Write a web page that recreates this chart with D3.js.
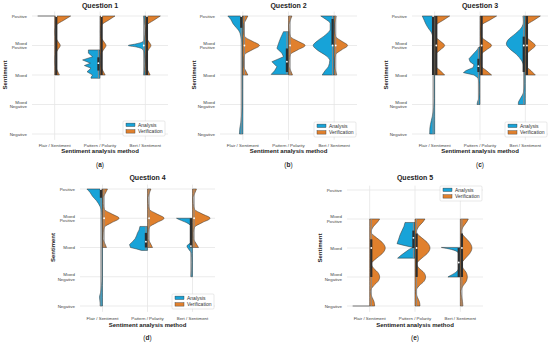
<!DOCTYPE html>
<html>
<head>
<meta charset="utf-8">
<script src="https://cdn.jsdelivr.net/npm/d3@7"></script>
<style>
	body { margin: 0; background: #fff; }
	svg { display: block; font-family: "Liberation Sans", Arial, sans-serif; }
</style>
</head>
<body>
<svg id="chart" width="550" height="343"></svg>
<script>
// sentiment levels, 0 = Negative ... 4 = Positive
const levels = ["Negative", "Mixed\nNegative", "Mixed", "Mixed\nPositive", "Positive"];
const methods = ["Flair / Sentiment", "Pattern / Polarity", "Bert / Sentiment"];
const questions = ["Question 1", "Question 2", "Question 3", "Question 4", "Question 5"];
const tags = ["a", "b", "c", "d", "e"];
const series = ["Analysis", "Verification"];

// half-violin profiles: [sentiment level, relative density]
// one row per question, one entry per method
const analysisShapes = [
	[
		[[4, .85]],
		[[2.85, .58], [2.74, .58], [2.62, .37], [2.51, .87], [2.4, .48], [2.32, .78], [2.23, .45], [2.11, .65], [2.0, .37], [1.92, .45], [1.89, .45]],
		[[4, .1], [3.85, .05], [3.5, .02], [3.25, .04], [3.13, .12], [3.05, .5], [3, .85], [2.95, .45], [2.88, .15], [2.75, .06], [2.4, .03], [2.15, .05], [2, .1]]
	],
	[
		[[4, .75], [3.88, .6], [3.75, .5], [3.6, .32], [3.5, .2], [3.3, .1], [3.1, .05], [2.8, .03], [1.5, .03], [0.9, .04], [0.6, .07], [0.4, .1], [0.2, .15], [0, .17]],
		[[3.47, .25], [3.25, .4], [3.07, .5], [2.9, .58], [2.74, .33], [2.62, .25], [2.45, .83], [2.28, .58], [2.14, .7], [2.02, .87]],
		[[4, .67], [3.9, .45], [3.75, .2], [3.55, .2], [3.35, .45], [3.15, .85], [3, 1.05], [2.85, .85], [2.65, .4], [2.5, .22], [2.3, .28], [2.15, .45], [2, .6]]
	],
	[
		[[4, .62], [3.85, .52], [3.7, .42], [3.55, .28], [3.45, .17], [3.2, .07], [3, .04], [2, .03], [1.2, .03], [0.9, .05], [0.6, .12], [0.45, .17], [0.2, .24], [0, .25]],
		[[2.95, .05], [2.85, .15], [2.7, .35], [2.55, .55], [2.45, .5], [2.35, .3], [2.25, .35], [2.15, .7], [2.08, .83], [2.0, .3], [1.9, .1], [1.7, .04], [1.4, .03], [1.2, .06], [1.1, .12], [1.0, .15]],
		[[4, .12], [3.8, .1], [3.6, .2], [3.4, .5], [3.2, .85], [3.05, .95], [2.9, .8], [2.7, .45], [2.5, .2], [2.3, .08], [2.0, .05], [1.7, .05], [1.4, .1], [1.2, .25], [1.05, .35], [1, .35]]
	],
	[
		[[4, .78], [3.88, .62], [3.75, .5], [3.6, .3], [3.5, .2], [3.3, .07], [3.1, .04], [2.5, .03], [1, .03], [0.7, .05], [0.45, .1], [0.3, .15], [0.1, .12], [0, .12]],
		[[2.72, .38], [2.6, .42], [2.5, .5], [2.4, .55], [2.3, .62], [2.2, .75], [2.1, .9], [2.0, .85], [1.95, .55], [1.9, .3]],
		[[3, .8], [2.92, .55], [2.85, .3], [2.75, .1], [2.6, .04], [2.3, .04], [2.15, .12], [2.05, .28], [1.95, .2], [1.8, .06], [1.5, .04], [1.2, .05], [1.0, .08]]
	],
	[
		[[0, .85]],
		[[2.88, .5], [2.75, .55], [2.6, .65], [2.45, .75], [2.3, .82], [2.15, .9], [2.08, .5], [2.02, .1], [1.95, .3], [1.85, .5], [1.75, .7], [1.65, .87]],
		[[2.02, .95], [1.95, .45], [1.85, .12], [1.7, .04], [1.5, .04], [1.3, .08], [1.15, .25], [1.05, .5], [1.0, .62]]
	]
];

const verificationShapes = [
	[
		[[4, .8], [3.85, .44], [3.7, .1], [3.5, .02], [3.3, .04], [3.15, .15], [3, .28], [2.85, .15], [2.7, .04], [2.5, .02], [2.3, .04], [2.15, .13], [2, .24]],
		[[4, .75], [3.85, .41], [3.7, .09], [3.5, .02], [3.3, .04], [3.15, .17], [3, .3], [2.85, .17], [2.7, .04], [2.5, .02], [2.3, .04], [2.15, .14], [2, .26]],
		[[4, .75], [3.85, .41], [3.7, .09], [3.5, .02], [3.3, .04], [3.15, .15], [3, .28], [2.85, .15], [2.7, .04], [2.5, .02], [2.3, .04], [2.15, .13], [2, .24]]
	],
	[
		[[4, .25], [3.85, .14], [3.7, .04], [3.5, .04], [3.3, .1], [3.15, .46], [3, .83], [2.85, .46], [2.7, .1], [2.5, .04], [2.3, .04], [2.15, .14], [2, .25]],
		[[4, .17], [3.85, .09], [3.7, .03], [3.5, .04], [3.3, .1], [3.15, .46], [3, .83], [2.85, .46], [2.7, .1], [2.5, .04], [2.3, .03], [2.15, .11], [2, .2]],
		[[4, .1], [3.85, .06], [3.7, .02], [3.5, .03], [3.3, .08], [3.15, .37], [3, .67], [2.85, .37], [2.7, .08], [2.5, .03], [2.3, .02], [2.15, .07], [2, .13]]
	],
	[
		[[4, .75], [3.85, .41], [3.7, .09], [3.5, .04], [3.3, .06], [3.15, .28], [3, .5], [2.85, .28], [2.7, .06], [2.5, .04], [2.3, .06], [2.15, .28], [2, .5]],
		[[4, .83], [3.85, .46], [3.7, .1], [3.5, .04], [3.3, .07], [3.15, .32], [3, .58], [2.85, .32], [2.7, .07], [2.5, .04], [2.3, .07], [2.15, .32], [2, .58]],
		[[4, .75], [3.85, .41], [3.7, .09], [3.5, .04], [3.3, .06], [3.15, .28], [3, .5], [2.85, .28], [2.7, .06], [2.5, .04], [2.3, .06], [2.15, .28], [2, .5]]
	],
	[
		[[4, .25], [3.85, .14], [3.7, .04], [3.5, .04], [3.3, .1], [3.15, .46], [3, .83], [2.85, .46], [2.7, .1], [2.5, .04], [2.3, .03], [2.15, .11], [2, .2]],
		[[4, .17], [3.85, .09], [3.7, .03], [3.5, .04], [3.3, .1], [3.15, .46], [3, .83], [2.85, .46], [2.7, .1], [2.5, .04], [2.3, .04], [2.15, .14], [2, .25]],
		[[4, .2], [3.85, .11], [3.7, .03], [3.5, .04], [3.3, .11], [3.15, .48], [3, .88], [2.85, .48], [2.7, .11], [2.5, .04], [2.3, .05], [2.15, .17], [2, .3]]
	],
	[
		[[3, .5], [2.9, .4], [2.75, .2], [2.55, .07], [2.35, .35], [2.2, .62], [2, .78], [1.8, .62], [1.65, .35], [1.45, .08], [1.3, .2], [1.15, .42], [1, .5], [.85, .42], [.7, .2], [.5, .04], [.3, .12], [.15, .22], [0, .25]],
		[[3, .5], [2.9, .4], [2.75, .2], [2.55, .07], [2.35, .34], [2.2, .6], [2, .75], [1.8, .6], [1.65, .34], [1.45, .08], [1.3, .21], [1.15, .45], [1, .53], [.85, .45], [.7, .21], [.5, .04], [.3, .12], [.15, .22], [0, .25]],
		[[3, .4], [2.9, .32], [2.75, .16], [2.55, .05], [2.35, .26], [2.2, .46], [2, .58], [1.8, .46], [1.65, .26], [1.45, .06], [1.3, .14], [1.15, .3], [1, .35], [.85, .3], [.7, .14], [.5, .03], [.3, .07], [.15, .11], [0, .13]]
	]
];

// inner boxes: [min, q1, median, q3, max]
const analysisBoxes = [
	[null, [1.89, 2.15, 2.4, 2.6, 2.85], [2, 3, 3, 3, 4]],
	[[0, 3.6, 4, 4, 4], [2.02, 2.1, 2.45, 2.9, 3.47], [2, 3, 3, 3.9, 4]],
	[[0, 2, 4, 4, 4], [1, 2.1, 2.3, 2.55, 2.95], [1, 2.1, 3, 3.3, 4]],
	[[0, 3.7, 4, 4, 4], [1.9, 2.0, 2.2, 2.5, 2.72], [1, 2, 2.05, 3, 3]],
	[null, [1.65, 2.0, 2.35, 2.6, 2.88], [1, 1, 1.5, 2, 2.02]]
];
const verificationBoxes = [
	[[2, 2, 4, 4, 4], [2, 2, 4, 4, 4], [2, 2, 4, 4, 4]],
	[[2, 3, 3, 3, 4], [2, 3, 3, 3, 4], [2, 3, 3, 3, 4]],
	[[2, 2, 3, 4, 4], [2, 2, 3, 4, 4], [2, 2, 3, 4, 4]],
	[[2, 3, 3, 3, 4], [2, 3, 3, 3, 4], [2, 3, 3, 3, 4]],
	[[0, 1, 2, 2.3, 3], [0, 1, 2, 2.5, 3], [0, 1, 2, 2.5, 3]]
];

// panel layout
const panels = [
	{ left: 32, right: 168, top: 16, bottom: 134, titleY: 7.6, tickY: 146.8, labelY: 153.3, yLabelX: 4.6, tagY: 167.3, legendX: 123, legendY: 121 },
	{ left: 220, right: 357, top: 16, bottom: 134, titleY: 7.6, tickY: 146.8, labelY: 153.3, yLabelX: 194, tagY: 167.3, legendX: 314, legendY: 122 },
	{ left: 412, right: 548, top: 16, bottom: 134, titleY: 7.6, tickY: 146.8, labelY: 153.3, yLabelX: 386, tagY: 167.3, legendX: 505, legendY: 122 },
	{ left: 80, right: 215, top: 189, bottom: 306, titleY: 180.3, tickY: 320, labelY: 327.2, yLabelX: 53, tagY: 340, legendX: 172, legendY: 294 },
	{ left: 347, right: 483, top: 190, bottom: 306, titleY: 180.3, tickY: 320, labelY: 327.2, yLabelX: 320, tagY: 340, legendX: 440, legendY: 186 }
];

const colors = { Analysis: "#17a3d8", Verification: "#e0802d" };
const svg = d3.select("#chart");
const wScale = d3.scaleLinear().domain([0, 1]).range([0, 20]);

panels.forEach((p, i) => {
	const g = svg.append("g");
	const x = d3.scaleBand().domain(methods).range([p.left, p.right]);
	const y = d3.scaleLinear().domain([0, 4]).range([p.bottom, p.top]);
	const cx = m => x(m) + x.bandwidth() / 2;

	// grid
	g.selectAll(".hgrid").data(d3.range(levels.length)).join("line")
		.attr("x1", p.left).attr("x2", p.right)
		.attr("y1", d => y(d)).attr("y2", d => y(d))
		.attr("stroke", "#e6e6e6").attr("stroke-width", 0.8);
	g.selectAll(".vgrid").data(methods).join("line")
		.attr("x1", cx).attr("x2", cx)
		.attr("y1", y(4.15)).attr("y2", y(-0.2))
		.attr("stroke", "#e6e6e6").attr("stroke-width", 0.8);

	// y tick labels
	const yt = g.selectAll(".ytick").data(levels).join("text")
		.attr("x", p.left - 5)
		.attr("text-anchor", "end")
		.attr("font-size", 4.4)
		.attr("fill", "#444");
	yt.each(function (d, k) {
		const lines = d.split("\n");
		const t = d3.select(this);
		lines.forEach((s, n) => {
			const off = (n - (lines.length - 1) / 2) * 4.6;
			t.append("tspan").attr("x", p.left - 5).attr("y", y(k) + off + 1.6).text(s);
		});
	});

	// x tick labels
	g.selectAll(".xtick").data(methods).join("text")
		.attr("x", cx).attr("y", p.tickY)
		.attr("text-anchor", "middle")
		.attr("font-size", 4.4)
		.attr("fill", "#444")
		.text(d => d);

	// axis labels and title
	g.append("text")
		.attr("x", (p.left + p.right) / 2).attr("y", p.labelY)
		.attr("text-anchor", "middle").attr("font-size", 6).attr("font-weight", "bold").attr("fill", "#222")
		.text("Sentiment analysis method");
	g.append("text")
		.attr("transform", `translate(${p.yLabelX},${(p.top + p.bottom) / 2}) rotate(-90)`)
		.attr("text-anchor", "middle").attr("dy", "0.35em")
		.attr("font-size", 6).attr("font-weight", "bold").attr("fill", "#222")
		.text("Sentiment");
	g.append("text")
		.attr("x", (p.left + p.right) / 2).attr("y", p.titleY)
		.attr("text-anchor", "middle").attr("font-size", 7).attr("font-weight", "bold").attr("fill", "#222")
		.text(questions[i]);
	const tag = g.append("text")
		.attr("x", (p.left + p.right) / 2).attr("y", p.tagY)
		.attr("text-anchor", "middle").attr("font-size", 6.5).attr("fill", "#222");
	tag.append("tspan").text("(");
	tag.append("tspan").attr("font-weight", "bold").text(tags[i]);
	tag.append("tspan").text(")");

	// violins: Pattern / Polarity scores are continuous, so their analysis side stays jagged
	methods.forEach((m, j) => {
		const curve = j === 1 ? d3.curveLinear : d3.curveMonotoneY;
		drawHalf(g, analysisShapes[i][j], cx(m), -1, colors.Analysis, y, curve);
		drawHalf(g, verificationShapes[i][j], cx(m), 1, colors.Verification, y, d3.curveMonotoneY);
	});
	methods.forEach((m, j) => {
		drawBox(g, analysisBoxes[i][j], cx(m), -1, y);
		drawBox(g, verificationBoxes[i][j], cx(m), 1, y);
	});

	// legend
	const lg = g.append("g").attr("transform", `translate(${p.legendX},${p.legendY})`);
	lg.append("rect")
		.attr("width", 42).attr("height", 15).attr("rx", 1)
		.attr("fill", "#fff").attr("fill-opacity", 0.85)
		.attr("stroke", "#d0d0d0").attr("stroke-width", 0.5);
	const row = lg.selectAll(".row").data(series).join("g")
		.attr("transform", (d, k) => `translate(3,${3.8 + k * 6.6})`);
	row.append("rect")
		.attr("width", 9).attr("height", 3.4).attr("y", -1.7)
		.attr("fill", d => colors[d]).attr("stroke", "#333").attr("stroke-width", 0.4);
	row.append("text")
		.attr("x", 12).attr("y", 1.8)
		.attr("font-size", 5).attr("fill", "#333")
		.text(d => d);
});

function drawHalf(g, profile, cx, side, color, y, curve) {
	if (profile.length === 1) {
		// all answers on one level: seaborn draws a flat line
		const [lv, w] = profile[0];
		g.append("line")
			.attr("x1", cx).attr("x2", cx + side * wScale(w))
			.attr("y1", y(lv)).attr("y2", y(lv))
			.attr("stroke", "#666").attr("stroke-width", 0.9);
		return;
	}
	const area = d3.area()
		.curve(curve)
		.y(d => y(d[0]))
		.x0(cx)
		.x1(d => cx + side * wScale(d[1]));
	g.append("path")
		.attr("d", area(profile))
		.attr("fill", color)
		.attr("stroke", "#333")
		.attr("stroke-width", 0.5);
}

function drawBox(g, box, cx, side, y) {
	if (!box) return;
	const [lo, q1, med, q3, hi] = box;
	const bx = cx + side * 1.6;
	g.append("line")
		.attr("x1", bx).attr("x2", bx)
		.attr("y1", y(lo)).attr("y2", y(hi))
		.attr("stroke", "#8a8a8a").attr("stroke-width", 1);
	if (q3 > q1) {
		g.append("line")
			.attr("x1", bx).attr("x2", bx)
			.attr("y1", y(q1)).attr("y2", y(q3))
			.attr("stroke", "#2e2e2e").attr("stroke-width", 2.2);
	}
	g.append("circle")
		.attr("cx", bx).attr("cy", y(med)).attr("r", 0.9)
		.attr("fill", "#fff");
}
</script>
</body>
</html>
